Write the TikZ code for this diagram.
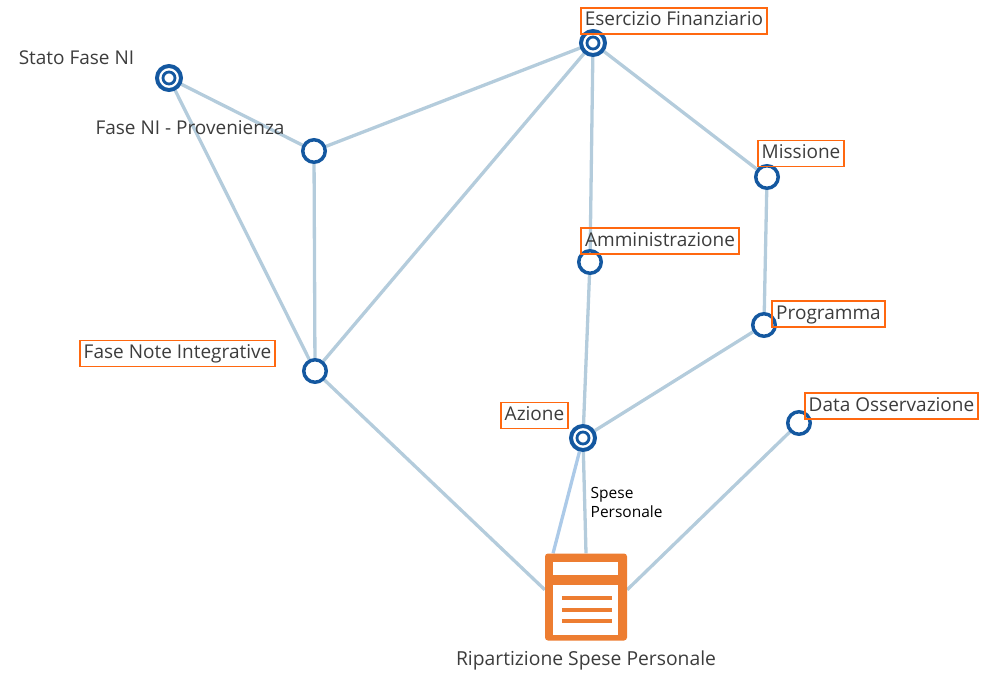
\documentclass[tikz,border=0pt]{standalone}
\usepackage{fontspec}
\setmainfont{Open Sans}
\usetikzlibrary{backgrounds}
\definecolor{edgeblue}{RGB}{180,204,220}
\definecolor{linkblue}{RGB}{172,202,232}
\definecolor{ringblue}{RGB}{20,88,160}
\definecolor{tagorange}{RGB}{255,104,16}
\definecolor{iconorange}{RGB}{237,125,49}
\definecolor{labelgray}{RGB}{60,60,60}

\begin{document}
\begin{tikzpicture}[x=1pt, y=-1pt,
    attr/.style={circle, draw=ringblue, line width=3.5pt, fill=white, minimum size=22.5pt, inner sep=0pt},
    keyattr/.style={attr, line width=4pt, minimum size=24pt, path picture={\draw[ringblue, line width=2.8pt] (path picture bounding box.center) circle (6pt);}},
    tag/.style={draw=tagorange, line width=1.8pt, inner xsep=4pt, inner ysep=4pt, text height=14pt, text depth=4pt, text=labelgray, font=\fontsize{19}{22}\selectfont},
    freelabel/.style={text=labelgray, font=\fontsize{19}{22}\selectfont},
    link/.style={draw=edgeblue, line width=3.3pt}]
    \useasboundingbox (0,0) rectangle (983,677);

    % attributes
    \node[keyattr] (stato) at (169,78) {};
    \node[attr] (prov) at (314,151) {};
    \node[keyattr] (eserc) at (593,43) {};
    \node[attr] (miss) at (767,177) {};
    \node[attr] (ammin) at (590,262) {};
    \node[attr] (progr) at (764,325) {};
    \node[attr] (fasenote) at (315,371) {};
    \node[keyattr] (azione) at (583,438) {};
    \node[attr] (dataoss) at (799,423) {};

    % labels
    \node[freelabel] (statolbl) at (76.5,58) {Stato Fase NI};
    \node[freelabel] (provlbl) at (190,128) {Fase NI - Provenienza};
    \node[tag] (esercl) at (674,21) {Esercizio Finanziario};
    \node[tag] (missl) at (801,153.5) {Missione};
    \node[tag] (amminl) at (660,241) {Amministrazione};
    \node[tag] (progrl) at (828.5,314) {Programma};
    \node[tag] (fasenotel) at (177.5,353.5) {Fase Note Integrative};
    \node[tag] (azionel) at (534.5,415.5) {Azione};
    \node[tag] (dataossl) at (891.5,406) {Data Osservazione};

    % report
    \node[fill=iconorange, rounded corners=3pt, minimum width=82pt, minimum height=87pt] (report) at (586,597) {};
    \fill[white] ([shift={(8,9)}]report.north west) rectangle ([shift={(-9,22)}]report.north east);
    \fill[white] ([shift={(8,32)}]report.north west) rectangle ([shift={(-9,-6)}]report.south east);
    \foreach \dy in {45,57,68}
        \draw[iconorange, line width=4pt] ([shift={(17,\dy)}]report.north west) -- ([shift={(-15,\dy)}]report.north east);
    \node[freelabel, font=\fontsize{19.3}{22}\selectfont] (reportlbl) at (586,660) {Ripartizione Spese Personale};

    \begin{scope}[on background layer]
        \draw[link] (stato) -- (prov);
        \draw[link] (stato) -- (fasenote);
        \draw[link] (prov) -- (eserc);
        \draw[link] (prov) -- (fasenote);
        \draw[link] (eserc) -- (fasenote);
        \draw[link] (eserc) -- (ammin);
        \draw[link] (eserc) -- (miss);
        \draw[link] (miss) -- (progr);
        \draw[link] (progr) -- (azione);
        \draw[link] (ammin) -- (azione);
        \draw[link, draw=linkblue] (azione) -- (report.127);
        \draw[link] (azione) -- node[right, xshift=1pt, align=left, text=black, font=\fontsize{15.5}{19}\selectfont] (spesel) {Spese\\Personale} (report.north);
        \draw[link] (fasenote) -- (report.170);
        \draw[link] (dataoss) -- (report.10);
    \end{scope}
\end{tikzpicture}
\end{document}
